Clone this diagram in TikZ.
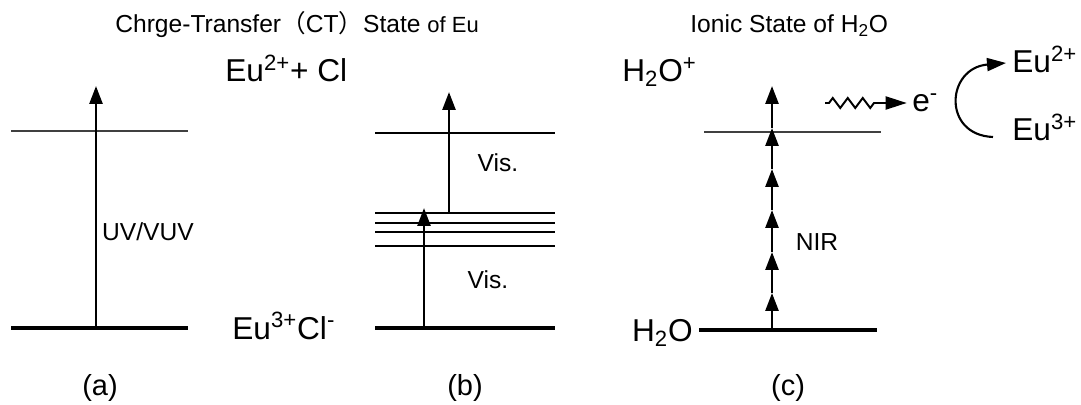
\documentclass[tikz,border=0pt]{standalone}
\usepackage{fontspec}
\setmainfont{Liberation Sans}
\newfontfamily\cjk{Noto Sans CJK SC}
\usetikzlibrary{arrows.meta,positioning,calc,decorations.pathmorphing}

\begin{document}
\begin{tikzpicture}[x=0.02cm,y=-0.02cm,
  thinlev/.style={line width=0.7pt,black!75},
  bandlev/.style={line width=1.1pt},
  groundlev/.style={line width=2.3pt},
  excite/.style={-{Triangle[length=0.36cm,width=0.26cm]},line width=1.5pt},
  biglbl/.style={font=\fontsize{18}{21}\selectfont,inner sep=0pt},
  midlbl/.style={font=\fontsize{14}{16}\selectfont,inner sep=0pt},
  paneltag/.style={font=\fontsize{16.5}{19}\selectfont,inner sep=0pt},
]
\useasboundingbox (0,0) rectangle (1081,405);
% titles
\node[midlbl,anchor=base west] (ttlct) at (115,33) {Chrge-Transfer{\cjk （}CT{\cjk ）}State {\fontsize{12.5}{14}\selectfont of Eu}};
\node[midlbl,anchor=base west] (ttlion) at (690,33) {Ionic State of H\textsubscript{2}O};
% (a)
\draw[thinlev] (11,131) -- (188,131);
\draw[groundlev] (11,328) -- (188,328);
\coordinate (a0) at (96,328);
\coordinate (a1) at (96,86);
\draw[excite] (a0) -- (a1);
\node[midlbl] (uv) at (148,232) {UV/VUV};
\node[paneltag] (taga) at (100,388) {(a)};
% (b)
\draw[bandlev] (375,133) -- (555,133);
\foreach \y in {213,223,232,246}
  \draw[bandlev] (375,\y) -- (555,\y);
\draw[groundlev] (375,328) -- (555,328);
\coordinate (b0) at (424,328);
\coordinate (b1) at (424,208);
\coordinate (b2) at (449,213);
\coordinate (b3) at (449,92);
\draw[excite] (b0) -- (b1);
\draw[excite] (b2) -- (b3);
\node[midlbl] (visup) at (498,163) {Vis.};
\node[midlbl] (vislo) at (488,280) {Vis.};
\node[biglbl,anchor=base west] (eutwo) at (225,82) {Eu\textsuperscript{2+}+ Cl};
\node[biglbl,anchor=base west] (euthree) at (232,339) {Eu\textsuperscript{3+}Cl\textsuperscript{-}};
\node[paneltag] (tagb) at (465,388) {(b)};
% (c)
\node[biglbl,anchor=base west] (hplus) at (622,82) {H\textsubscript{2}O\textsuperscript{+}};
\node[biglbl,anchor=base east] (hwater) at (693,341) {H\textsubscript{2}O};
\draw[thinlev] (704,132) -- (881,132);
\draw[groundlev] (699,330) -- (877,330);
\foreach \y [count=\i] in {330,293,252,210,169,128,86}
  \coordinate (c\i) at (772,\y);
\foreach \i [evaluate=\i as \j using int(\i+1)] in {1,...,6}
  \draw[excite] (c\i) -- (c\j);
\node[midlbl] (nir) at (817,242) {NIR};
\node[paneltag] (tagc) at (788,388) {(c)};
% electron transfer
\node[biglbl,anchor=west] (elec) at (912,103) {e\textsuperscript{-}};
\coordinate (zz) at (825,103);
\draw[-{Triangle[length=0.42cm,width=0.26cm]},line width=1.1pt,
  decorate,decoration={zigzag,segment length=0.3cm,amplitude=0.1cm,pre length=0.08cm,post length=0.55cm}]
  (zz) -- ([xshift=-3pt]elec.west);
\node[biglbl,anchor=base west] (eutop) at (1012,73) {Eu\textsuperscript{2+}};
\node[biglbl,anchor=base west] (eubot) at (1012,141) {Eu\textsuperscript{3+}};
\coordinate (arcs) at (993,137);
\coordinate (arce) at (1006,63);
\draw[-{Triangle[length=0.38cm,width=0.26cm]},line width=1.2pt]
  (arcs) .. controls (942,135) and (946,68) .. (arce);
\end{tikzpicture}
\end{document}
